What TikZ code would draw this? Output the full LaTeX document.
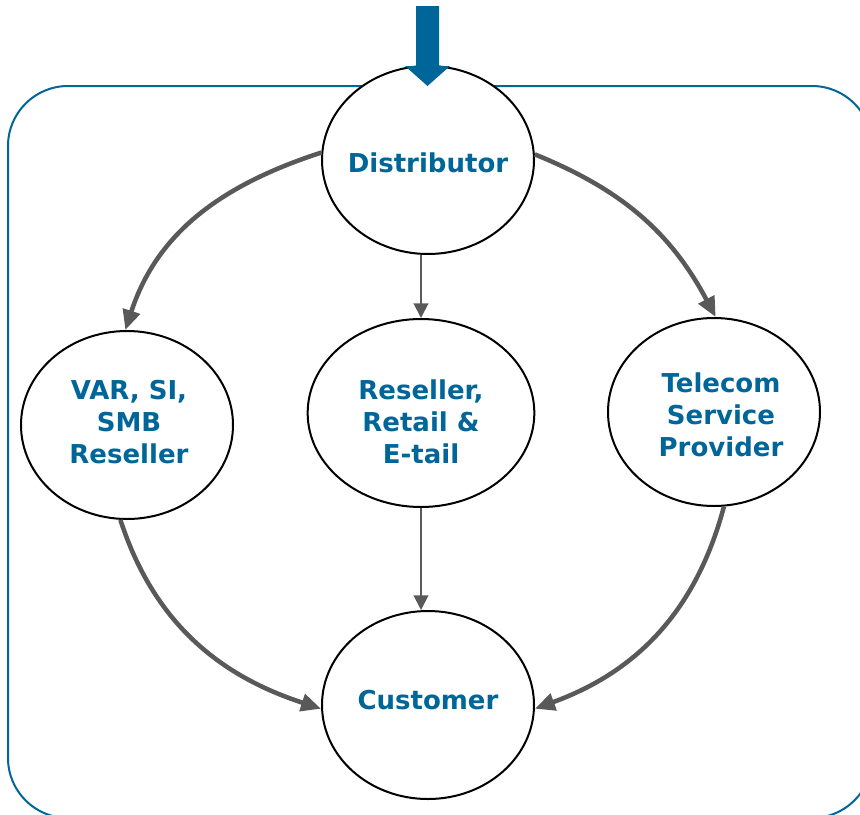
\documentclass[tikz,border=0pt]{standalone}
\usepackage{fontspec}
\setmainfont{DejaVu Sans}
\usetikzlibrary{shapes.geometric,arrows.meta}
\definecolor{chanblue}{RGB}{0,102,153}
\definecolor{flowgray}{RGB}{89,89,89}
\begin{document}
\begin{tikzpicture}[x=0.75pt,y=0.75pt,
  party/.style={ellipse,draw=black,line width=1.5pt,fill=white,
    minimum width=159pt,minimum height=141pt,inner sep=0pt},
  partytext/.style={align=center,text=chanblue,inner sep=0pt,
    font=\fontsize{19.5}{24}\selectfont\bfseries},
  bigflow/.style={draw=flowgray,line width=3.4pt,
    -{Triangle[length=15pt,width=13pt]}},
  smallflow/.style={draw=flowgray,line width=1.5pt,
    -{Triangle[length=11pt,width=11pt]}}]
\useasboundingbox (0,0) rectangle (860,-814);
% outer frame
\draw[chanblue,line width=1.5pt,rounded corners=45pt]
  (8,-86) rectangle (872,-818);
% channel partners
\node[party] (dist) at (428,-160) {};
\node[party] (var) at (127,-425) {};
\node[party,minimum width=170pt] (resel) at (421,-413) {};
\node[party] (tel) at (714,-412) {};
\node[party] (cust) at (428,-705) {};
\node[partytext] (distT) at (428,-163) {Distributor};
\node[partytext] (varT) at (129,-422) {VAR, SI,\\SMB\\Reseller};
\node[partytext] (reselT) at (421,-422) {Reseller,\\Retail \&\\E-tail};
\node[partytext] (telT) at (721,-415) {Telecom\\Service\\Provider};
\node[partytext] (custT) at (428,-700) {Customer};
% product flow
\draw[bigflow] (dist.176) to[out=198,in=72] (var.91);
\draw[bigflow] (dist.3) to[out=-22,in=118] (tel.89);
\draw[bigflow] (var.-94) to[out=-72,in=162] (cust.182);
\draw[bigflow] (tel.-84) to[out=-105,in=20] (cust.-2);
\draw[smallflow] (dist.south -| resel.north) -- (resel.north);
\draw[smallflow] (resel.south) -- (resel.south |- cust.north);
% incoming supply arrow
\fill[chanblue] (416,-6) -- (439,-6) -- (439,-66) -- (450,-66)
  -- (427.5,-86) -- (405,-66) -- (416,-66) -- cycle;
\end{tikzpicture}
\end{document}
